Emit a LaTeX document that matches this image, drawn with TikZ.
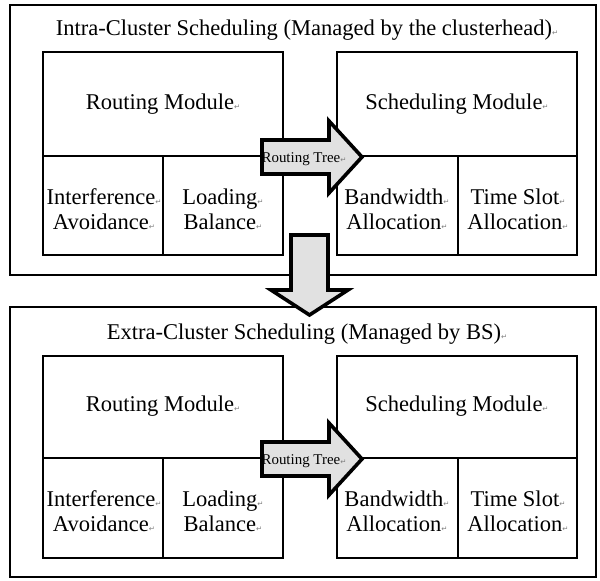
\documentclass[tikz,border=0pt]{standalone}
\usepackage{fontspec}
\setmainfont{Liberation Serif}
\newfontfamily\markfont{DejaVu Sans}
\newcommand{\parmark}{{\markfont\fontsize{5.5}{5.5}\selectfont\textcolor{gray}{↵}}}
\definecolor{arrowgray}{RGB}{225,225,225}

\tikzset{every picture/.style={line width=0.75pt}}
\tikzset{
  boxline/.style={line width=2.2pt},
  divline/.style={line width=1.1pt},
  blockarrow/.style={line width=2.7pt, fill=arrowgray, line join=miter},
  lbl/.style={font=\fontsize{16.9}{18.8}\selectfont, align=center, inner sep=0pt},
  smalllbl/.style={font=\fontsize{11.2}{12}\selectfont, inner sep=0pt},
}

\begin{document}
\begin{tikzpicture}[x=0.75pt,y=0.75pt,yscale=-1,xscale=1]
	\useasboundingbox (0,0) rectangle (600,581); %page of 600 x 581

	%Shape: Rectangle [intra-cluster frame]
	\draw [boxline] (10,5) rectangle (596,275) ;
	%Shape: Rectangle [routing module]
	\draw [boxline] (43,52) rectangle (283,255) ;
	\draw [divline] (43,156) -- (283,156) ;
	\draw [divline] (163,156) -- (163,255) ;
	%Shape: Rectangle [scheduling module]
	\draw [boxline] (337,52) rectangle (577,255) ;
	\draw [divline] (337,156) -- (577,156) ;
	\draw [divline] (458,156) -- (458,255) ;

	%Shape: Rectangle [extra-cluster frame]
	\draw [boxline] (10,307) rectangle (596,577) ;
	%Shape: Rectangle [routing module]
	\draw [boxline] (43,356) rectangle (283,558) ;
	\draw [divline] (43,458) -- (283,458) ;
	\draw [divline] (163,458) -- (163,558) ;
	%Shape: Rectangle [scheduling module]
	\draw [boxline] (337,356) rectangle (577,558) ;
	\draw [divline] (337,458) -- (577,458) ;
	\draw [divline] (458,458) -- (458,558) ;

	%Shape: Right Arrow [routing tree, upper]
	\draw [blockarrow] (262,140) -- (329,140) -- (329,121) -- (362,157) -- (329,193) -- (329,174) -- (262,174) -- cycle ;
	%Shape: Right Arrow [routing tree, lower]
	\draw [blockarrow] (262,442) -- (329,442) -- (329,423) -- (362,459) -- (329,495) -- (329,476) -- (262,476) -- cycle ;
	%Shape: Down Arrow [intra to extra]
	\draw [blockarrow] (291,235) -- (328,235) -- (328,290) -- (348,290) -- (309.5,315) -- (271,290) -- (291,290) -- cycle ;

	% Text Node
	\node [lbl] (title1) at (307,30) {Intra-Cluster Scheduling (Managed by the clusterhead)\parmark};
	% Text Node
	\node [lbl] (rmod1) at (163,104) {Routing Module\parmark};
	% Text Node
	\node [lbl] (smod1) at (457,104) {Scheduling Module\parmark};
	% Text Node
	\node [lbl] (ia1) at (104,209) {Interference\parmark\\Avoidance\parmark};
	% Text Node
	\node [lbl] (lb1) at (223,209) {Loading\parmark\\Balance\parmark};
	% Text Node
	\node [lbl] (ba1) at (397,209) {Bandwidth\parmark\\Allocation\parmark};
	% Text Node
	\node [lbl] (ts1) at (518,209) {Time Slot\parmark\\Allocation\parmark};
	% Text Node
	\node [smalllbl] (rt1) at (304,159) {Routing Tree\parmark};

	% Text Node
	\node [lbl] (title2) at (307,334) {Extra-Cluster Scheduling (Managed by BS)\parmark};
	% Text Node
	\node [lbl] (rmod2) at (163,406) {Routing Module\parmark};
	% Text Node
	\node [lbl] (smod2) at (457,406) {Scheduling Module\parmark};
	% Text Node
	\node [lbl] (ia2) at (104,511) {Interference\parmark\\Avoidance\parmark};
	% Text Node
	\node [lbl] (lb2) at (223,511) {Loading\parmark\\Balance\parmark};
	% Text Node
	\node [lbl] (ba2) at (397,511) {Bandwidth\parmark\\Allocation\parmark};
	% Text Node
	\node [lbl] (ts2) at (518,511) {Time Slot\parmark\\Allocation\parmark};
	% Text Node
	\node [smalllbl] (rt2) at (304,461) {Routing Tree\parmark};

\end{tikzpicture}
\end{document}
